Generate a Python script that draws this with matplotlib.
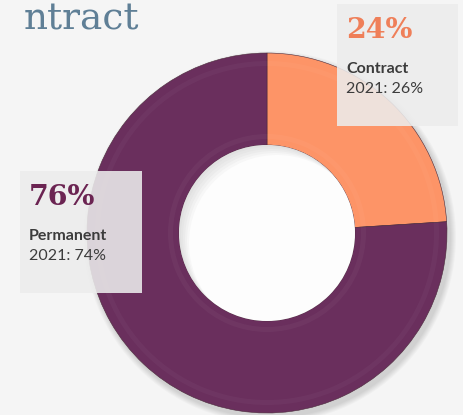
import matplotlib
matplotlib.use('Agg')
import matplotlib.pyplot as plt
import matplotlib.patches as patches

# data
labels = ['Contract', 'Permanent']
shares = [24, 76]
prior = [26, 74]
prior_year = 2021
colours = ['#fd9467', '#6a2f5d']
num_colours = ['#ef7f59', '#6b2452']
title_text = 'ntract'

W, H = 463, 415
fig = plt.figure(figsize=(W / 100, H / 100), dpi=100)
fig.patch.set_facecolor('#f5f5f5')
ax = fig.add_axes([0, 0, 1, 1])
ax.set_facecolor('#f5f5f5')

cx, cy = 267, H - 233
R, ring = 180, 92
r_in = R - ring

# soft drop shadow behind the donut
for k in range(1, 7):
    ax.add_patch(patches.Circle((cx + 3, cy - 4), R + k, fc='k', ec='none',
                                alpha=0.025, zorder=1))

wedges, _ = ax.pie(shares, colors=colours, startangle=90, counterclock=False,
                   center=(cx, cy), radius=R,
                   wedgeprops=dict(width=ring, edgecolor='#4a2a3a', linewidth=0.4))
for wdg in wedges:
    wdg.set_zorder(2)

# bevel highlights
ax.add_patch(patches.Wedge((cx, cy), r_in + 11, 0, 360, width=5,
                           fc='white', ec='none', alpha=0.035, zorder=3))
ax.add_patch(patches.Wedge((cx, cy), R - 8, 0, 360, width=5,
                           fc='white', ec='none', alpha=0.03, zorder=3))

# hole with inner shadow
hole = patches.Circle((cx, cy), r_in, fc='#fdfdfd', ec='none', zorder=4)
ax.add_patch(hole)
for s in range(2, 12, 2):
    sh = patches.Wedge((cx + s, cy - s), r_in + s + 6, 0, 360, width=s + 6,
                       fc='#9a9a9a', ec='none', alpha=0.06, zorder=5)
    ax.add_patch(sh)
    sh.set_clip_path(hole)

# label boxes
boxes = [(337, 4, 121, 122), (20, 171, 122, 122)]
for i, (bx, by, bw, bh) in enumerate(boxes):
    ax.add_patch(patches.Rectangle((bx, H - by - bh), bw, bh, fc='#ececec',
                                   ec='none', alpha=0.88, zorder=6))
    tx = bx + 9
    ax.text(tx, H - by - 34, f'{shares[i]}%', fontsize=20.5, fontweight='bold',
            family='DejaVu Serif', color=num_colours[i], zorder=7, va='baseline')
    ax.text(tx, H - by - 69, labels[i], fontsize=11.5, fontweight='bold',
            family='Lato', color='#3c3c3c', zorder=7, va='baseline')
    ax.text(tx, H - by - 89, f'{prior_year}: {prior[i]}%', fontsize=11.5,
            family='Lato', color='#3c3c3c', zorder=7, va='baseline')

# cropped title
ax.text(139, H - 29, title_text, fontsize=27, family='DejaVu Serif',
        color='#5f7f96', ha='right', va='baseline', zorder=7)

ax.set_xlim(0, W)
ax.set_ylim(0, H)
ax.set_aspect('equal')
ax.axis('off')

fig.savefig('out.png', dpi=100, facecolor=fig.get_facecolor())
